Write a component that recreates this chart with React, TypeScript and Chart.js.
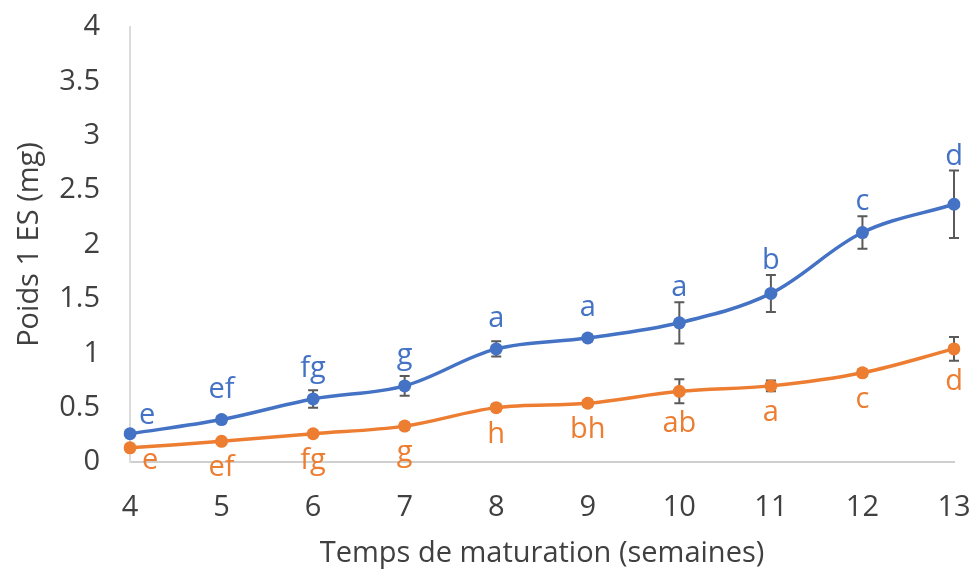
import React, { useEffect, useRef } from "react";
import { Chart, registerables } from "chart.js";

Chart.register(...registerables);

const weeks = ["4", "5", "6", "7", "8", "9", "10", "11", "12", "13"];
const blueValues = [0.26, 0.39, 0.58, 0.7, 1.04, 1.14, 1.28, 1.55, 2.11, 2.37];
const blueErrors = [0.02, 0.03, 0.08, 0.09, 0.07, 0.03, 0.19, 0.17, 0.15, 0.31];
const blueLetters = ["e", "ef", "fg", "g", "a", "a", "a", "b", "c", "d"];
const orangeValues = [0.13, 0.19, 0.26, 0.33, 0.5, 0.54, 0.65, 0.7, 0.82, 1.04];
const orangeErrors = [0.02, 0.02, 0.02, 0.03, 0.03, 0.03, 0.11, 0.05, 0.03, 0.11];
const orangeLetters = ["e", "ef", "fg", "g", "h", "bh", "ab", "a", "c", "d"];
const yTicks = [0, 0.5, 1, 1.5, 2, 2.5, 3, 3.5, 4];

const BLUE = "#4472C4";
const ORANGE = "#ED7D31";
const FONT = "'Open Sans', sans-serif";

const errorBarPlugin = {
  id: "errorBars",
  beforeDatasetsDraw(chart: any) {
    const ctx = chart.ctx;
    const yScale = chart.scales.y;
    const errs = [blueErrors, orangeErrors];
    chart.data.datasets.forEach((ds: any, di: number) => {
      const meta = chart.getDatasetMeta(di);
      meta.data.forEach((pt: any, i: number) => {
        const v = ds.data[i];
        const e = errs[di][i];
        const yTop = yScale.getPixelForValue(v + e);
        const yBot = yScale.getPixelForValue(v - e);
        ctx.save();
        ctx.strokeStyle = "#5a5a5a";
        ctx.lineWidth = 2;
        ctx.beginPath();
        ctx.moveTo(pt.x, yTop);
        ctx.lineTo(pt.x, yBot);
        ctx.moveTo(pt.x - 5, yTop);
        ctx.lineTo(pt.x + 5, yTop);
        ctx.moveTo(pt.x - 5, yBot);
        ctx.lineTo(pt.x + 5, yBot);
        ctx.stroke();
        ctx.restore();
      });
    });
  },
};

const letterPlugin = {
  id: "letters",
  afterDatasetsDraw(chart: any) {
    const ctx = chart.ctx;
    const yScale = chart.scales.y;
    ctx.save();
    ctx.font = `29px ${FONT}`;
    ctx.textBaseline = "alphabetic";
    chart.getDatasetMeta(0).data.forEach((pt: any, i: number) => {
      ctx.fillStyle = BLUE;
      const errTop = yScale.getPixelForValue(blueValues[i] + blueErrors[i]);
      if (i === 0) {
        ctx.textAlign = "left";
        ctx.fillText(blueLetters[i], pt.x + 9, pt.y - 10);
      } else {
        ctx.textAlign = "center";
        ctx.fillText(blueLetters[i], pt.x, Math.min(pt.y - 22, errTop - 6));
      }
    });
    chart.getDatasetMeta(1).data.forEach((pt: any, i: number) => {
      ctx.fillStyle = ORANGE;
      const errBot = yScale.getPixelForValue(orangeValues[i] - orangeErrors[i]);
      if (i === 0) {
        ctx.textAlign = "left";
        ctx.fillText(orangeLetters[i], pt.x + 12, pt.y + 21);
      } else {
        ctx.textAlign = "center";
        ctx.fillText(orangeLetters[i], pt.x, Math.max(pt.y + 35, errBot + 29));
      }
    });
    ctx.restore();
  },
};

export default function App() {
  const ref = useRef<HTMLCanvasElement>(null);
  useEffect(() => {
    if (!ref.current) return;
    const chart = new Chart(ref.current, {
      type: "line",
      data: {
        labels: weeks,
        datasets: [
          {
            data: blueValues,
            borderColor: BLUE,
            backgroundColor: BLUE,
            borderWidth: 3.5,
            pointRadius: 6.5,
            pointBorderWidth: 0,
            tension: 0.35,
          },
          {
            data: orangeValues,
            borderColor: ORANGE,
            backgroundColor: ORANGE,
            borderWidth: 3.5,
            pointRadius: 6.5,
            pointBorderWidth: 0,
            tension: 0.35,
          },
        ],
      },
      options: {
        animation: false,
        responsive: true,
        maintainAspectRatio: false,
        layout: { padding: { top: 27, right: 23, left: 0, bottom: 0 } },
        plugins: { legend: { display: false }, tooltip: { enabled: false } },
        scales: {
          x: {
            offset: false,
            grid: { display: false, drawTicks: false },
            border: { color: "#cfcfcf", width: 2 },
            ticks: { color: "#404040", font: { family: FONT, size: 29 }, padding: 28 },
            title: {
              display: true,
              text: "Temps de maturation (semaines)",
              color: "#404040",
              font: { family: FONT, size: 29 },
              padding: { top: 0, bottom: 6 },
            },
            afterFit: (s: any) => {
              s.height = 115;
              s.paddingLeft = 0;
              s.paddingRight = 0;
            },
          },
          y: {
            min: 0,
            max: 4,
            afterBuildTicks: (s: any) => {
              s.ticks = yTicks.map((v) => ({ value: v }));
            },
            grid: { display: false, drawTicks: false },
            border: { color: "#dcdcdc", width: 2 },
            ticks: {
              color: "#404040",
              font: { family: FONT, size: 29 },
              padding: 30,
              callback: (v: any) => String(v),
            },
            title: {
              display: true,
              text: "Poids 1 ES (mg)",
              color: "#404040",
              font: { family: FONT, size: 29 },
              padding: { top: 12, bottom: 0 },
            },
            afterFit: (s: any) => {
              s.width = 130;
              s.paddingTop = 0;
              s.paddingBottom = 0;
            },
          },
        },
      },
      plugins: [errorBarPlugin, letterPlugin],
    });
    return () => chart.destroy();
  }, []);
  return (
    <div style={{ position: "fixed", left: 0, top: 0, width: 977, height: 577, background: "#fff" }}>
      <canvas ref={ref} />
    </div>
  );
}
